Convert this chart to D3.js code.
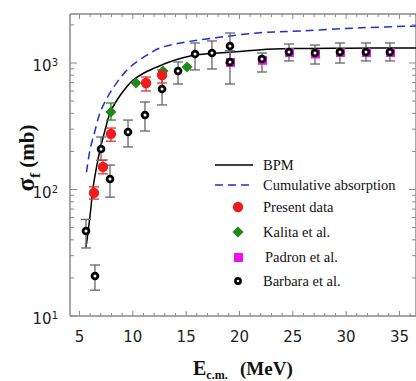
<!DOCTYPE html>
<html><head><meta charset="utf-8">
<script src="https://cdn.jsdelivr.net/npm/d3@7"></script>
<style>body{margin:0;background:#fff}</style>
</head><body>
<svg id="c" width="416" height="381"></svg>
<script>
// ---- data ----
const bpmE = [5.61,5.83,6.05,6.24,6.55,6.92,7.4,7.86,8.52,9.43,10.0,11.0,12.0,13.3,14.7,16.0,18.0,20.0,22.0,25.0,30.0,36.55];
const bpmS = [35,48,69,99,143,205,295,403,510,650,730,830,910,1010,1100,1160,1200,1235,1275,1300,1310,1315];
const cumE = [5.66,5.98,6.45,6.92,7.86,9.55,11.33,12.55,14.42,16.95,21.64,25.67,31.02,36.55];
const cumS = [137,205,290,403,580,897,1156,1315,1439,1549,1727,1790,1893,1960];

const presE  = [6.36,7.20,7.95,11.24,12.74];
const presS  = [94,151,275,695,803];
const presLo = [84,133,241,601,695];
const presHi = [105,171,306,775,881];

const kalE  = [7.95,10.30,12.83,15.08];
const kalS  = [410,695,865,929];
const kalLo = [354,null,null,null];
const kalHi = [483,null,null,null];

const padE = [19.11,22.11,24.64,27.08,29.42,31.86,34.11];
const padS = [1019,1060,1222,1190,1222,1222,1222];

const barE  = [5.61,6.45,7.02,7.86,9.55,11.14,12.74,14.24,15.83,17.42,19.11,19.11,22.11,24.64,27.08,29.42,31.86,34.11];
const barS  = [47,20.7,209,121,285,388,623,865,1178,1200,1362,1019,1077,1222,1200,1222,1222,1222];
const barLo = [34.5,16,170,87,217,290,466,682,881,897,1000,682,849,1038,982,1000,1038,1038];
const barHi = [58,25.3,260,156,354,492,818,1019,1440,1493,1727,1250,1200,1413,1387,1440,1440,1440];

const xMajor = [5,10,15,20,25,30,35];
const xMinor = d3.range(5,37,1);
const yMajor = [10,100,1000];
const yMajorExp = ["1","2","3"];
const yMinor = [20,30,40,50,60,70,80,90,200,300,400,500,600,700,800,900,2000];

const legendLabels = ["BPM","Cumulative absorption","Present data","Kalita et al.","Padron et al.","Barbara et al."];

// ---- layout ----
const L=70, R=416, T=14, B=316;
const svg = d3.select("#c");
const x = d3.scaleLinear().domain([4.11,36.55]).range([L,R]);
const y = d3.scaleLog().domain([10,2440]).range([B,T]);
const axCol = "#8a8a8a";

// frame
const g = svg.append("g");
function hAxis(yy, dir){
  g.append("line").attr("x1",L).attr("x2",R).attr("y1",yy).attr("y2",yy).attr("stroke",axCol).attr("stroke-width",1.5);
  xMinor.forEach(v=>{
    const len = xMajor.includes(v)?5:3;
    g.append("line").attr("x1",x(v)).attr("x2",x(v)).attr("y1",yy).attr("y2",yy+dir*len).attr("stroke",axCol).attr("stroke-width",1);
  });
}
hAxis(B,-1); hAxis(T,1);
function vAxis(xx, dir){
  g.append("line").attr("x1",xx).attr("x2",xx).attr("y1",T).attr("y2",B).attr("stroke",axCol).attr("stroke-width",1.5);
  yMajor.forEach(v=>g.append("line").attr("x1",xx).attr("x2",xx+dir*7).attr("y1",y(v)).attr("y2",y(v)).attr("stroke",axCol).attr("stroke-width",1));
  yMinor.forEach(v=>g.append("line").attr("x1",xx).attr("x2",xx+dir*4).attr("y1",y(v)).attr("y2",y(v)).attr("stroke",axCol).attr("stroke-width",1));
}
vAxis(L,1); vAxis(R,-1);

// x tick labels
svg.append("g").selectAll("text").data(xMajor).join("text")
  .attr("x",d=>x(d)).attr("y",B+26).attr("text-anchor","middle")
  .attr("font-family","DejaVu Sans").attr("font-size",15).attr("fill","#222").text(d=>d);
// y tick labels
yMajor.forEach((v,i)=>{
  const t = svg.append("text").attr("x",58).attr("y",y(v)+8).attr("text-anchor","end")
    .attr("font-family","DejaVu Sans").attr("font-size",15).attr("fill","#222");
  t.append("tspan").text("10");
  t.append("tspan").attr("font-size",10).attr("dy",-5).text(yMajorExp[i]);
});

// axis titles
const yt = svg.append("text").attr("transform","translate(34,158) rotate(-90)").attr("text-anchor","middle")
  .attr("font-family","Liberation Serif").attr("font-weight","bold").attr("font-size",21).attr("fill","#111");
yt.append("tspan").attr("font-size",25).text("σ");
yt.append("tspan").attr("font-size",15).attr("dy",6).text("f");
yt.append("tspan").attr("dy",-6).text(" (mb)");

const xt = svg.append("text").attr("x",193).attr("y",375)
  .attr("font-family","Liberation Serif").attr("font-weight","bold").attr("font-size",20).attr("fill","#111");
xt.append("tspan").text("E");
xt.append("tspan").attr("font-size",12).attr("dy",4).text("c.m.");
xt.append("tspan").attr("dy",-4).attr("x",240).attr("font-size",19).text("(MeV)");

// curves
const line = d3.line().x(d=>x(d[0])).y(d=>y(d[1])).curve(d3.curveCatmullRom.alpha(0.5));
svg.append("clipPath").attr("id","cp").append("rect").attr("x",L).attr("y",T).attr("width",R-L).attr("height",B-T);
const plot = svg.append("g").attr("clip-path","url(#cp)");
plot.append("path").attr("d",line(cumE.map((e,i)=>[e,cumS[i]]))).attr("fill","none")
  .attr("stroke","#1f2fd0").attr("stroke-width",1.5).attr("stroke-dasharray","8,5");
plot.append("path").attr("d",line(bpmE.map((e,i)=>[e,bpmS[i]]))).attr("fill","none")
  .attr("stroke","#000").attr("stroke-width",1.5);

// error bars
function errBars(E,Lo,Hi,col){
  E.forEach((e,i)=>{
    if(Lo[i]==null) return;
    const xx=x(e);
    plot.append("line").attr("x1",xx).attr("x2",xx).attr("y1",y(Lo[i])).attr("y2",y(Hi[i])).attr("stroke",col).attr("stroke-width",1.3);
    [Lo[i],Hi[i]].forEach(v=>plot.append("line").attr("x1",xx-5).attr("x2",xx+5).attr("y1",y(v)).attr("y2",y(v)).attr("stroke",col).attr("stroke-width",1.3));
  });
}
errBars(barE,barLo,barHi,"#666");
errBars(presE,presLo,presHi,"#e03030");
errBars(kalE,kalLo,kalHi,"#2a8a2a");

// markers
plot.selectAll(".pad").data(padE).join("rect").attr("x",(d)=>x(d)-4).attr("y",(d,i)=>y(padS[i])-4)
  .attr("width",9).attr("height",9).attr("fill","#ee11ee");
plot.selectAll(".bar").data(barE).join("circle").attr("cx",d=>x(d)).attr("cy",(d,i)=>y(barS[i])).attr("r",2.9)
  .attr("fill","#fff").attr("stroke","#000").attr("stroke-width",2.8);
const diamond = d3.symbol().type(d3.symbolSquare).size(60);
plot.selectAll(".kal").data(kalE).join("path").attr("d",diamond)
  .attr("transform",(d,i)=>`translate(${x(d)},${y(kalS[i])}) rotate(45)`).attr("fill","#1e8a1e");
plot.selectAll(".pres").data(presE).join("circle").attr("cx",d=>x(d)).attr("cy",(d,i)=>y(presS[i])).attr("r",5.2)
  .attr("fill","#ee1c1c");

// legend
const lg = svg.append("g");
const rows = [165,185,207,232,257,281];
lg.append("line").attr("x1",215).attr("x2",253).attr("y1",rows[0]).attr("y2",rows[0]).attr("stroke","#000").attr("stroke-width",1.5);
lg.append("line").attr("x1",215).attr("x2",253).attr("y1",rows[1]).attr("y2",rows[1]).attr("stroke","#1f2fd0").attr("stroke-width",1.5).attr("stroke-dasharray","8,5");
lg.append("circle").attr("cx",238).attr("cy",rows[2]).attr("r",5.2).attr("fill","#ee1c1c");
lg.append("path").attr("d",diamond).attr("transform",`translate(238,${rows[3]}) rotate(45)`).attr("fill","#1e8a1e");
lg.append("rect").attr("x",234).attr("y",rows[4]-4).attr("width",9).attr("height",9).attr("fill","#ee11ee");
lg.append("circle").attr("cx",238).attr("cy",rows[5]).attr("r",2.6).attr("fill","#fff").attr("stroke","#000").attr("stroke-width",2.6);
lg.selectAll("text").data(legendLabels).join("text")
  .attr("x",(d,i)=>i===4?265:263).attr("y",(d,i)=>rows[i]+5)
  .attr("font-family","Liberation Serif").attr("font-size",14.5).attr("fill","#111").text(d=>d);
</script>
</body></html>
